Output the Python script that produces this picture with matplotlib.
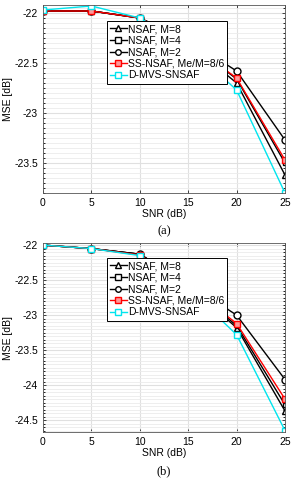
import numpy as np
import matplotlib.pyplot as plt
from matplotlib.ticker import MultipleLocator

snr = [0, 5, 10, 15, 20, 25]
labels = ['NSAF, M=8', 'NSAF, M=4', 'NSAF, M=2', 'SS-NSAF, Me/M=8/6', 'D-MVS-SNSAF']

# (a)
a_m8 = [-21.98, -21.98, -22.05, -22.30, -22.70, -23.62]
a_m4 = [-21.98, -21.98, -22.05, -22.29, -22.66, -23.50]
a_m2 = [-21.98, -21.98, -22.05, -22.27, -22.58, -23.27]
a_ss = [-21.98, -21.98, -22.05, -22.30, -22.65, -23.47]
a_dmvs = [-21.97, -21.93, -22.05, -22.33, -22.77, -23.80]

# (b)
b_m8 = [-22.00, -22.05, -22.13, -22.58, -23.18, -24.37]
b_m4 = [-22.00, -22.05, -22.13, -22.57, -23.15, -24.28]
b_m2 = [-22.00, -22.05, -22.13, -22.55, -23.00, -23.92]
b_ss = [-22.00, -22.05, -22.14, -22.58, -23.12, -24.20]
b_dmvs = [-22.00, -22.05, -22.15, -22.62, -23.28, -24.65]

styles = [
    dict(color='k', marker='^'),
    dict(color='k', marker='s', markersize=3),
    dict(color='k', marker='o'),
    dict(color='red', marker='s', markerfacecolor='#ff9999'),
    dict(color='#00e5ee', marker='s'),
]

plt.rcParams['font.family'] = 'Liberation Sans'
plt.rcParams['font.size'] = 7.5

fig = plt.figure(figsize=(2.96, 4.8), dpi=100)
W, H = 296, 480
tag_text = {231: '(a)', 471: '(b)'}

def panel(rect, series, ylim, yticks, tag, leg_rect):
    l, t, r, b = rect
    ax = fig.add_axes([l / W, 1 - b / H, (r - l) / W, (b - t) / H])
    for ys, st, lab in zip(series, styles, labels):
        kw = dict(markersize=5, markerfacecolor='white', linewidth=1.0)
        kw.update(st)
        ax.plot(snr, ys, label=lab, **kw)
    ax.set_xlim(0, 25)
    ax.set_ylim(*ylim)
    ax.set_xticks(snr)
    ax.set_yticks(yticks)
    ax.set_yticklabels(['%g' % v for v in yticks])
    ax.yaxis.set_minor_locator(MultipleLocator(0.05))
    ax.grid(True, which='major', color='#e0e0e0', linewidth=0.8)
    ax.grid(True, which='minor', axis='y', color='#ebebeb', linewidth=0.6)
    ax.tick_params(direction='in', length=2, width=0.5, top=True, right=True)
    ax.tick_params(which='minor', direction='in', length=1.5, right=True, left=True)
    for s in ax.spines.values():
        s.set_color('#555555')
        s.set_linewidth(0.6)
    ax.set_xlabel('SNR (dB)', labelpad=1)
    ax.set_ylabel('MSE [dB]', labelpad=1)
    ax.set_axisbelow(True)
    lx0, ly0, lx1, ly1 = leg_rect
    leg = ax.legend(loc='upper left',
                    bbox_to_anchor=((lx0 - l) / (r - l), 1 - (ly0 - t) / (b - t)),
                    fontsize=7.5, frameon=True, fancybox=False, framealpha=1,
                    handlelength=1.6, handletextpad=0.1, borderpad=0.3,
                    labelspacing=0.15, borderaxespad=0)
    leg.get_frame().set_edgecolor('k')
    leg.get_frame().set_linewidth(0.7)
    leg.set_zorder(10)
    for h in leg.legend_handles:
        h.set_markersize(4)
    fig.text((l + r) / 2 / W, 1 - tag / H, tag_text[tag], ha='center', va='center',
             family='Liberation Serif', fontsize=9)
    return ax

panel((43, 5, 285, 193), [a_m8, a_m4, a_m2, a_ss, a_dmvs], (-23.8, -21.92),
      [-23.5, -23, -22.5, -22], 231, (107, 21, 220, 83))
panel((43, 243, 285, 432), [b_m8, b_m4, b_m2, b_ss, b_dmvs], (-24.67, -21.97),
      [-24.5, -24, -23.5, -23, -22.5, -22], 471, (107, 258, 223, 322))

fig.savefig('out.png', dpi=100)
